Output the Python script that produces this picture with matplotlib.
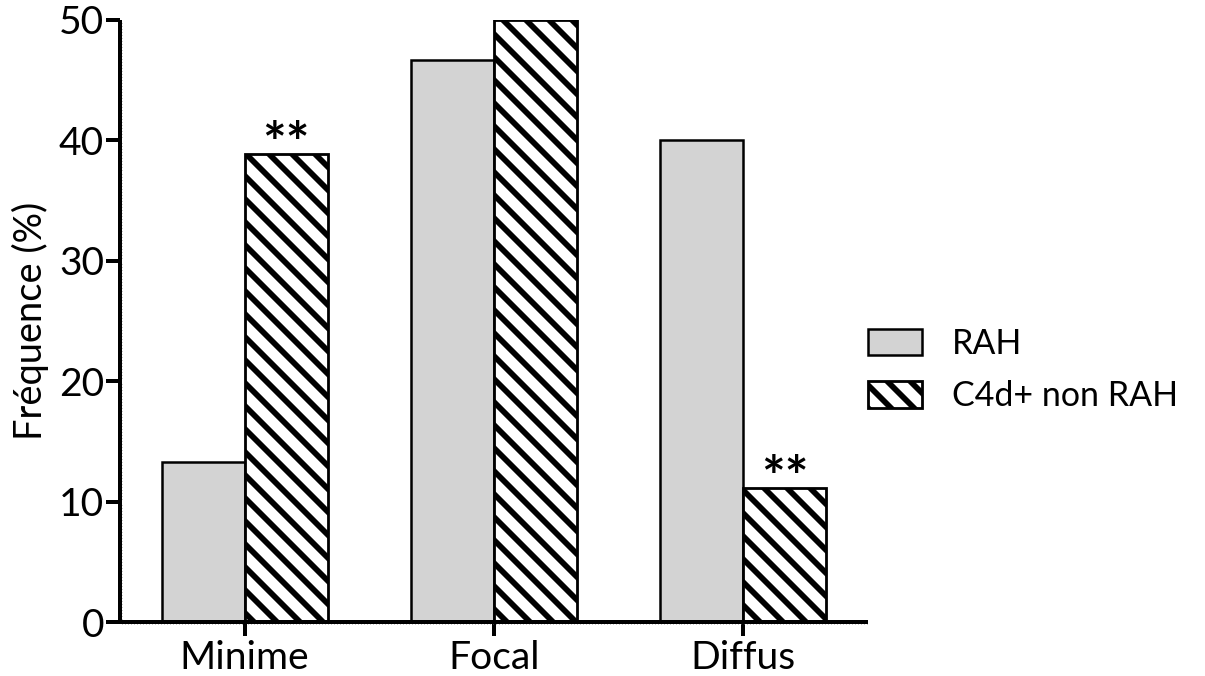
import matplotlib
matplotlib.use("Agg")
import matplotlib.pyplot as plt
from matplotlib.ticker import MultipleLocator
import numpy as np

categories = ["Minime", "Focal", "Diffus"]
rah = [13.3, 46.7, 40.0]
c4d = [38.9, 50.0, 11.1]
c4d_marks = ["**", "", "**"]
series_labels = ["RAH", "C4d+ non RAH"]

DPI = 138
W, H = 1205, 676


def px(v):
    # pixels -> points at this dpi
    return v * 72.0 / DPI


plt.rcParams["font.family"] = ["Lato", "DejaVu Sans"]
plt.rcParams["hatch.linewidth"] = 3.0
plt.rcParams["hatch.color"] = "black"

fs = px(39)
LEG_PX = 34

fig = plt.figure(figsize=(W / DPI, H / DPI), dpi=DPI)
ax = fig.add_axes([120 / W, 54 / H, (868 - 120) / W, (622 - 20) / H])

x = np.arange(len(categories))
bw = 1 / 3

b1 = ax.bar(x - bw / 2, rah, bw, color="#d3d3d3", edgecolor="black",
            linewidth=px(2.5), label=series_labels[0])
b2 = ax.bar(x + bw / 2, c4d, bw, color="white", edgecolor="black",
            linewidth=px(2.8), hatch="\\\\", label=series_labels[1])

for rect, mark in zip(b2, c4d_marks):
    if mark:
        ax.annotate(mark, (rect.get_x() + rect.get_width() / 2, rect.get_height()),
                    xytext=(0, px(8)), textcoords="offset points",
                    ha="center", va="center", fontsize=px(56), fontweight="bold")

ax.set_xlim(-0.5, 2.5)
ax.set_ylim(0, 50)
ax.set_yticks([0, 10, 20, 30, 40, 50])
ax.set_xticks(x)
ax.set_xticklabels(categories)
ax.set_ylabel("Fréquence (%)", fontsize=px(38), labelpad=px(10))

for s in ["top", "right"]:
    ax.spines[s].set_visible(False)
for s in ["left", "bottom"]:
    ax.spines[s].set_linewidth(px(4))
    ax.spines[s].set_capstyle("butt")

ax.tick_params(axis="both", which="major", labelsize=fs, width=px(4),
               length=px(14), color="black")
ax.tick_params(axis="x", which="major", pad=px(4))
ax.tick_params(axis="y", which="major", pad=px(2))

# textured axis lines, as in the Prism export
ax.xaxis.set_minor_locator(MultipleLocator(0.012))
ax.yaxis.set_minor_locator(MultipleLocator(0.25))
ax.tick_params(axis="both", which="minor", direction="inout", length=px(4),
               width=px(0.8), color="#777777")

fig.legend(handles=[b1, b2], labels=series_labels, loc="center left",
           bbox_to_anchor=(868 / W, 1 - 370 / H), frameon=False,
           fontsize=px(LEG_PX), borderpad=0, borderaxespad=0,
           handlelength=54 / LEG_PX, handleheight=28 / LEG_PX,
           handletextpad=30 / LEG_PX, labelspacing=0.6)

fig.savefig("out.png", dpi=DPI)
